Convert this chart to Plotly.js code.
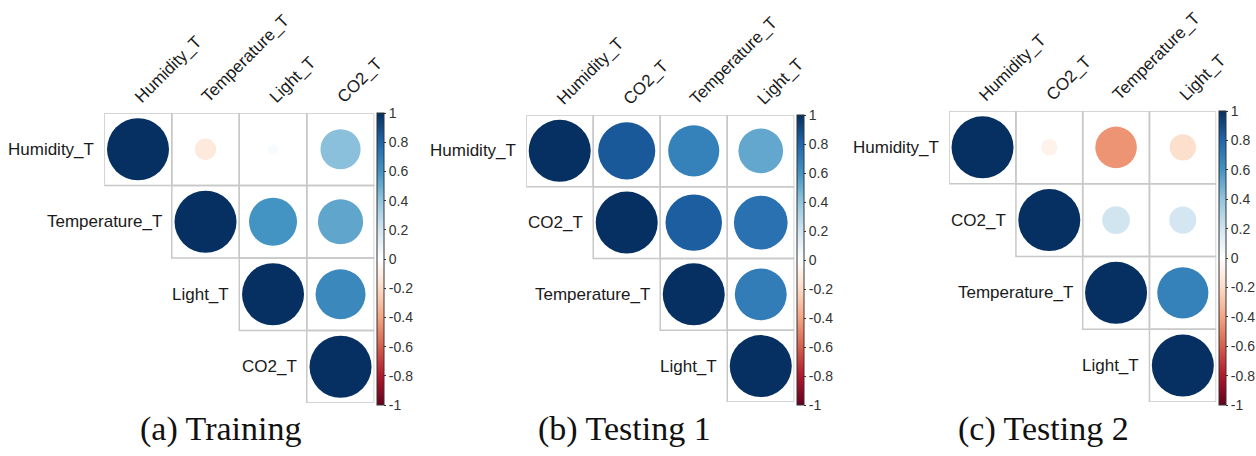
<!DOCTYPE html>
<html>
<head>
<meta charset="utf-8">
<script src="https://cdn.plot.ly/plotly-3.0.1.min.js"></script>
<style>html,body{margin:0;padding:0;background:#fff;}#chart{width:1256px;height:456px;}</style>
</head>
<body>
<div id="chart"></div>
<script>
// ---- data ----
const varsA = ["Humidity_T", "Temperature_T", "Light_T", "CO2_T"];
const varsB = ["Humidity_T", "CO2_T", "Temperature_T", "Light_T"];
const varsC = ["Humidity_T", "CO2_T", "Temperature_T", "Light_T"];
// upper-triangular correlation matrices (null = lower triangle, not drawn)
const corrA = [
  [1, -0.12, 0.03, 0.42],
  [null, 1, 0.60, 0.53],
  [null, null, 1, 0.65],
  [null, null, null, 1]
];
const corrB = [
  [1, 0.85, 0.68, 0.52],
  [null, 1, 0.83, 0.75],
  [null, null, 1, 0.70],
  [null, null, null, 1]
];
const corrC = [
  [1, -0.07, -0.45, -0.18],
  [null, 1, 0.20, 0.19],
  [null, null, 1, 0.68],
  [null, null, null, 1]
];
const titles = ["(a) Training", "(b) Testing 1", "(c) Testing 2"];
const cbTickVals = [1, 0.8, 0.6, 0.4, 0.2, 0, -0.2, -0.4, -0.6, -0.8, -1];
const cbTickText = ["1", "0.8", "0.6", "0.4", "0.2", "0", "-0.2", "-0.4", "-0.6", "-0.8", "-1"];

// ---- style ----
const W = 1256, H = 456;
const rdbu = ["#67001F", "#B2182B", "#D6604D", "#F4A582", "#FDDBC7", "#FFFFFF",
              "#D1E5F0", "#92C5DE", "#4393C3", "#2166AC", "#053061"];
const colorscale = rdbu.map((c, i) => [i / (rdbu.length - 1), c]);
// panel geometry in pixels
const panels = [
  {vars: varsA, corr: corrA, l: 105, r: 377, t: 113, b: 403, cb: 380, cbt: 113, cbb: 405, tx: 223},
  {vars: varsB, corr: corrB, l: 530, r: 800, t: 115, b: 402, cb: 803, cbt: 115, cbb: 405, tx: 629},
  {vars: varsC, corr: corrC, l: 956, r: 1225, t: 111, b: 402, cb: 1228, cbt: 111, cbb: 405, tx: 1051}
];
const fullDiam = 62;
const labelFont = {family: "Liberation Sans, Arial, sans-serif", size: 17, color: "#1a1a1a"};

const traces = [];
const shapes = [];
const annotations = [];
const layout = {
  width: W, height: H,
  margin: {l: 0, r: 0, t: 0, b: 0},
  paper_bgcolor: "#fff", plot_bgcolor: "rgba(0,0,0,0)",
  showlegend: false,
  shapes: shapes, annotations: annotations
};

panels.forEach((p, k) => {
  const n = p.vars.length;
  const ax = k === 0 ? "" : String(k + 1);
  const xa = "x" + ax, ya = "y" + ax;
  layout["xaxis" + ax] = {domain: [p.l / W, p.r / W], range: [-0.5, n - 0.5], visible: false, fixedrange: true, anchor: ya};
  layout["yaxis" + ax] = {domain: [1 - p.b / H, 1 - p.t / H], range: [n - 0.5, -0.5], visible: false, fixedrange: true, anchor: xa};

  const xs = [], ys = [], vals = [], sizes = [];
  for (let i = 0; i < n; i++) {
    for (let j = i; j < n; j++) {
      const v = p.corr[i][j];
      xs.push(j); ys.push(i); vals.push(v);
      sizes.push(fullDiam * Math.sqrt(Math.abs(v)));
      shapes.push({type: "rect", xref: xa, yref: ya, x0: j - 0.5, x1: j + 0.5, y0: i - 0.5, y1: i + 0.5,
                   line: {color: "#c8c8c8", width: 1.5}, fillcolor: "rgba(0,0,0,0)", layer: "below"});
    }
  }
  traces.push({
    type: "scatter", mode: "markers", x: xs, y: ys, xaxis: xa, yaxis: ya,
    hoverinfo: "none",
    marker: {
      symbol: "circle", size: sizes, color: vals, cmin: -1, cmax: 1, colorscale: colorscale,
      opacity: 1,
      line: {width: 0},
      showscale: true,
      colorbar: {
        x: p.cb / W, xanchor: "left", xpad: 0,
        y: 1 - p.cbt / H, yanchor: "top", ypad: 0,
        len: p.cbb - p.cbt, lenmode: "pixels",
        thickness: 7, thicknessmode: "pixels",
        outlinewidth: 1, outlinecolor: "#333",
        tickmode: "array", tickvals: cbTickVals, ticktext: cbTickText,
        ticks: "outside", ticklen: 2, tickcolor: "#333",
        tickfont: {family: "Liberation Sans, Arial, sans-serif", size: 14, color: "#333"}
      }
    }
  });
  // row and column labels
  p.vars.forEach((name, i) => {
    annotations.push({xref: xa, yref: ya, x: i - 0.5, y: i, text: name, showarrow: false,
                      xanchor: "right", yanchor: "middle", xshift: -8, font: labelFont});
    annotations.push({xref: xa, yref: ya, x: i, y: -0.5, text: name, showarrow: false,
                      textangle: -45, xanchor: "left", yanchor: "bottom", xshift: -10, yshift: 4, font: labelFont});
  });
  annotations.push({xref: "paper", yref: "paper", x: p.tx / W, y: 1 - 450 / H, text: titles[k], showarrow: false,
                    xanchor: "center", yanchor: "bottom",
                    font: {family: "Liberation Serif, Times New Roman, serif", size: 34, color: "#111"}});
});

Plotly.newPlot("chart", traces, layout, {staticPlot: true, displayModeBar: false});
</script>
</body>
</html>
